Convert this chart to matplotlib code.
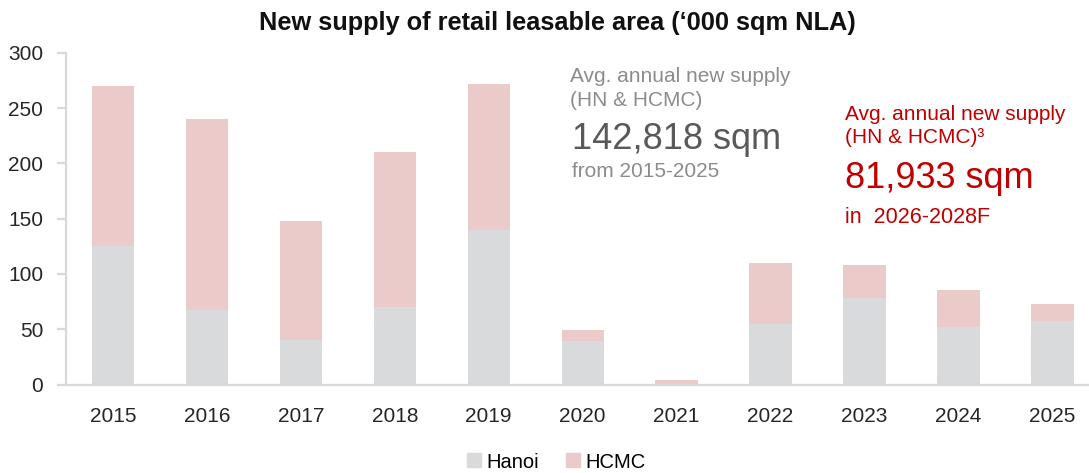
import matplotlib.pyplot as plt
from matplotlib.lines import Line2D

plt.rcParams['font.family'] = ['Liberation Sans', 'DejaVu Sans']

# New supply of retail NLA, '000 sqm
years = ['2015', '2016', '2017', '2018', '2019', '2020', '2021', '2022', '2023', '2024', '2025']
hanoi = [125, 67, 40, 70, 140, 39, 0, 55, 78, 52, 57]
hcmc = [145, 173, 108, 140, 132, 10, 4, 55, 30, 33, 16]

c_hanoi = '#D9DADC'
c_hcmc = '#EBCACA'
c_axis = '#D9D9D9'

W, H = 1089, 473
fig = plt.figure(figsize=(W / 100, H / 100), dpi=100)
ax = fig.add_axes([66 / W, 1 - 384.5 / H, 1 - 66 / W, (384.5 - 52.7) / H])

x = range(len(years))
ax.bar(x, hanoi, width=0.45, color=c_hanoi, label='Hanoi')
ax.bar(x, hcmc, width=0.45, bottom=hanoi, color=c_hcmc, label='HCMC')

ax.set_xlim(-0.5, 10.39)
ax.set_ylim(0, 300)
ax.set_yticks(range(0, 301, 50))
ax.set_xticks(list(x))
ax.set_xticklabels(years)

for s in ['top', 'right']:
    ax.spines[s].set_visible(False)
for s in ['left', 'bottom']:
    ax.spines[s].set_color(c_axis)
    ax.spines[s].set_linewidth(1.6)
ax.tick_params(axis='y', length=6.5, width=1.6, color=c_axis, pad=10,
               labelsize=15, labelcolor='#262626')
ax.tick_params(axis='x', length=0, pad=16, labelsize=15, labelcolor='#262626')

fig.text(557 / W, 1 - 30 / H, 'New supply of retail leasable area (\u2018000 sqm NLA)',
         ha='center', va='baseline', fontsize=18.3, fontweight='bold', color='#111111')

# historical average
grey = '#8C8C8C'
fig.text(570 / W, 1 - 82 / H, 'Avg. annual new supply', fontsize=15, color=grey, va='baseline')
fig.text(570 / W, 1 - 106 / H, '(HN & HCMC)', fontsize=15, color=grey, va='baseline')
fig.text(572 / W, 1 - 149 / H, '142,818 sqm', fontsize=26, color='#595959', va='baseline')
fig.text(572 / W, 1 - 177 / H, 'from 2015-2025', fontsize=15, color=grey, va='baseline')

# forecast average
red = '#C00000'
fig.text(845 / W, 1 - 120 / H, 'Avg. annual new supply', fontsize=15, color=red, va='baseline')
fig.text(845 / W, 1 - 143 / H, '(HN & HCMC)\u00b3', fontsize=15, color=red, va='baseline')
fig.text(845 / W, 1 - 188 / H, '81,933 sqm', fontsize=26, color=red, va='baseline')
fig.text(845 / W, 1 - 223 / H, 'in  2026-2028F', fontsize=15.5, color=red, va='baseline')

handles = [Line2D([], [], marker='s', linestyle='none', markersize=10,
                  markerfacecolor=c, markeredgecolor=c) for c in (c_hanoi, c_hcmc)]
fig.legend(handles, ['Hanoi', 'HCMC'], loc='center', bbox_to_anchor=(555 / W, 1 - 462 / H),
           ncol=2, frameon=False, fontsize=14.5, handletextpad=0.1, columnspacing=1.2,
           handlelength=1.0)

fig.savefig('out.png', dpi=100)
